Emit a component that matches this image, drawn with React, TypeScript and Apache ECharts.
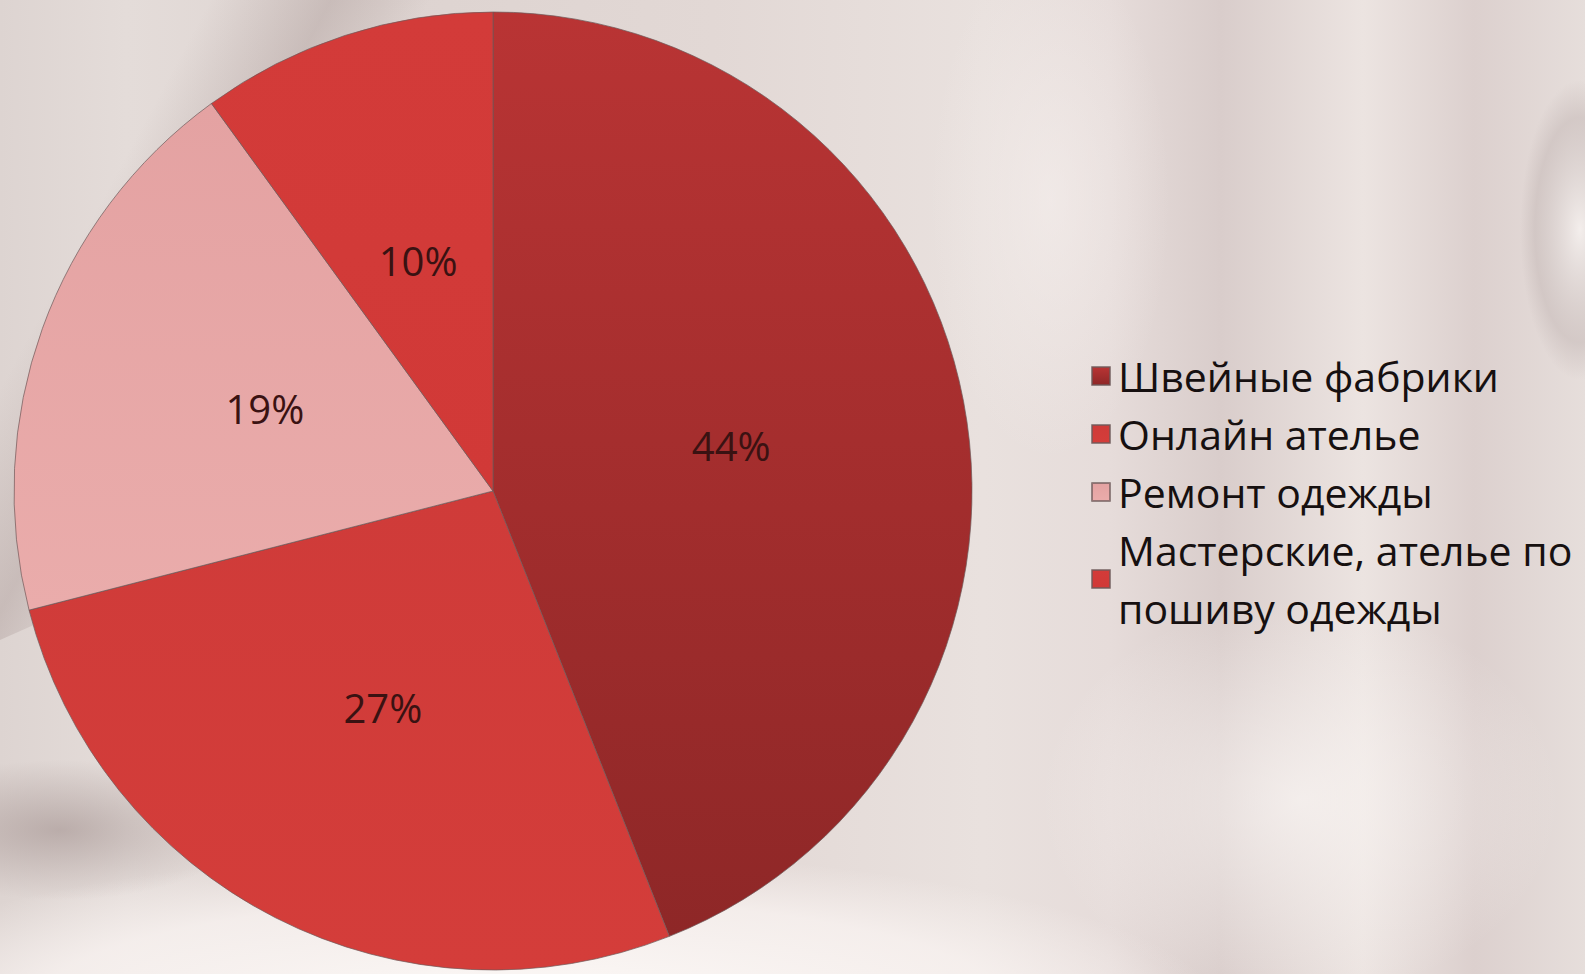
import React, { useEffect, useRef } from "react";
import * as echarts from "echarts";

const categories = [
  "Швейные фабрики",
  "Онлайн ателье",
  "Ремонт одежды",
  "Мастерские, ателье по\nпошиву одежды",
];
const values = [44, 27, 19, 10];

const sliceColors = [
  ["#b93434", "#8e2727"],
  ["#cf3b39", "#d43d3a"],
  ["#e4a2a2", "#eaacab"],
  ["#d33b39", "#d13937"],
];

export default function App() {
  const ref = useRef<HTMLDivElement>(null);
  useEffect(() => {
    document.body.style.margin = "0";
    const chart = echarts.init(ref.current!, null, { renderer: "svg" });
    const lg = (x, y, x2, y2, stops, global = false) => ({
      type: "linear",
      x,
      y,
      x2,
      y2,
      global,
      colorStops: stops.map(([o, c]) => ({ offset: o, color: c })),
    });
    const rg = (stops) => ({
      type: "radial",
      x: 0.5,
      y: 0.5,
      r: 0.5,
      colorStops: stops.map(([o, c]) => ({ offset: o, color: c })),
    });
    chart.setOption({
      animation: false,
      backgroundColor: "#e4dbd8",
      graphic: [
        {
          type: "rect",
          z: -10,
          shape: { x: 0, y: 0, width: 1585, height: 974 },
          style: {
            fill: lg(0, 0, 1, 0, [
              [0, "#ddd4d1"],
              [0.08, "#e4dcd9"],
              [0.24, "#ddd3d0"],
              [0.45, "#e2d8d5"],
              [0.62, "#e9e1de"],
              [0.7, "#e6dcda"],
              [0.77, "#d9cdcb"],
              [0.86, "#ece4e1"],
              [0.93, "#dcd0ce"],
              [1, "#e6dedb"],
            ]),
          },
          silent: true,
        },
        {
          type: "polygon",
          z: -9,
          shape: {
            points: [
              [180, 0],
              [460, 0],
              [260, 330],
              [90, 600],
              [0, 640],
              [0, 380],
            ],
          },
          style: {
            fill: lg(90, 222, 260, 314, [
              [0, "rgba(150,130,128,0)"],
              [0.55, "rgba(150,130,128,0.3)"],
              [1, "rgba(150,130,128,0)"],
            ], true),
          },
          silent: true,
        },
        {
          type: "ellipse",
          z: -9,
          shape: { cx: 520, cy: 1010, rx: 700, ry: 160 },
          style: { fill: rg([[0, "rgba(255,252,250,0.95)"], [0.7, "rgba(248,242,240,0.8)"], [1, "rgba(248,242,240,0)"]]) },
          silent: true,
        },
        {
          type: "ellipse",
          z: -9,
          shape: { cx: 60, cy: 830, rx: 180, ry: 70 },
          style: { fill: rg([[0, "rgba(140,120,118,0.45)"], [1, "rgba(140,120,118,0)"]]) },
          silent: true,
        },
        {
          type: "ellipse",
          z: -9,
          shape: { cx: 1300, cy: 800, rx: 260, ry: 200 },
          style: { fill: rg([[0, "rgba(250,246,244,0.7)"], [1, "rgba(250,246,244,0)"]]) },
          silent: true,
        },
        {
          type: "ellipse",
          z: -9,
          shape: { cx: 1050, cy: 200, rx: 120, ry: 260 },
          style: { fill: rg([[0, "rgba(246,240,238,0.6)"], [1, "rgba(246,240,238,0)"]]) },
          silent: true,
        },
        {
          type: "ellipse",
          z: -9,
          shape: { cx: 1580, cy: 230, rx: 60, ry: 150 },
          style: { fill: rg([[0, "rgba(245,240,238,0.9)"], [0.75, "rgba(200,188,186,0.6)"], [1, "rgba(200,188,186,0)"]]) },
          silent: true,
        },
      ],
      legend: {
        orient: "vertical",
        left: 1086,
        top: 342,
        itemWidth: 18,
        itemHeight: 18,
        itemGap: 0,
        icon: "rect",
        data: categories,
        textStyle: {
          fontFamily: "Open Sans",
          fontSize: 41,
          lineHeight: 58,
          color: "#161010",
          padding: [0, 0, 0, 3],
        },
      },
      series: [
        {
          type: "pie",
          center: [493, 491],
          radius: 479,
          startAngle: 90,
          clockwise: true,
          silent: true,
          itemStyle: { borderColor: "rgba(110,90,90,0.7)", borderWidth: 1 },
          label: {
            position: "inside",
            fontFamily: "Open Sans",
            fontSize: 40,
            color: "#3a1212",
            formatter: (p) => p.value + "%",
          },
          labelLine: { show: false },
          data: categories.map((name, i) => ({
            name,
            value: values[i],
            itemStyle: {
              color: lg(0, 0, 0, 1, [
                [0, sliceColors[i][0]],
                [1, sliceColors[i][1]],
              ]),
            },
          })),
        },
      ],
    });
    return () => chart.dispose();
  }, []);
  return <div ref={ref} style={{ width: 1585, height: 974 }} />;
}
